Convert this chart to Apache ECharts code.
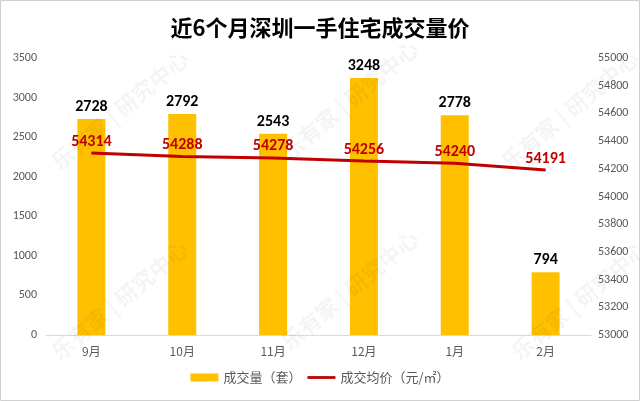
<!DOCTYPE html>
<html><head><meta charset="utf-8">
<script src="https://cdn.jsdelivr.net/npm/echarts@6/dist/echarts.min.js"></script>
<style>html,body{margin:0;padding:0;background:#fff}#c{width:640px;height:401px}</style>
</head><body><div id="c"></div>
<script>
var categories = ['9月','10月','11月','12月','1月','2月'];
var volume = [2728, 2792, 2543, 3248, 2778, 794];
var price = [54314, 54288, 54278, 54256, 54240, 54191];
var titleText = '近6个月深圳一手住宅成交量价';
var volumeName = '成交量（套）';
var priceName = '成交均价（元/㎡）';
var watermarkText = '乐有家 | 研究中心';

var chart = echarts.init(document.getElementById('c'), null, {renderer:'canvas'});
var font = '"Microsoft YaHei","Noto Sans CJK SC",sans-serif';
var numFont = 'Calibri,"Liberation Sans",sans-serif';
var wm = [];
[[120,110],[120,300],[350,100],[350,290],[570,110],[580,300]].forEach(function(p){
  wm.push({type:'text',x:p[0],y:p[1],rotation:Math.PI/4.5,z:100,silent:true,
    style:{text:watermarkText,fill:'rgba(0,0,0,0.045)',font:'bold 22px "Noto Sans CJK SC",sans-serif',align:'center',verticalAlign:'middle'}});
});
wm.push({type:'rect',shape:{x:0.5,y:0.5,width:639,height:400},style:{fill:'none',stroke:'#d0d0d0',lineWidth:1}});
chart.setOption({
  backgroundColor:'#fff',
  animation:false,
  title:{text:titleText,left:'center',top:12,textStyle:{fontFamily:font,fontSize:22,fontWeight:'bold',color:'#000'}},
  graphic:wm,
  grid:{left:46,right:49,top:58,bottom:66},
  legend:{bottom:12,left:'center',itemGap:6,itemWidth:28,itemHeight:8,
    textStyle:{fontFamily:font,fontSize:13,color:'#595959'},
    data:[{name:volumeName,icon:'rect'},{name:priceName,icon:'path://M0,0 L30,0 L30,3 L0,3 Z',itemStyle:{color:'#C00000'}}]},
  xAxis:{type:'category',data:categories,
    axisLine:{lineStyle:{color:'#d9d9d9'}},axisTick:{show:false},
    axisLabel:{color:'#595959',fontSize:12,fontFamily:font,margin:10}},
  yAxis:[
    {type:'value',min:0,max:3500,interval:500,splitLine:{show:false},
      axisLine:{show:false},axisTick:{show:false},
      axisLabel:{color:'#595959',fontSize:12,fontFamily:numFont,margin:9,formatter:function(v){return String(v);}}},
    {type:'value',min:53000,max:55000,interval:200,splitLine:{show:false},
      axisLine:{show:false},axisTick:{show:false},
      axisLabel:{color:'#595959',fontSize:12,fontFamily:numFont,margin:7,formatter:function(v){return String(v);}}}
  ],
  series:[
    {name:volumeName,type:'bar',data:volume,barWidth:28,yAxisIndex:0,
      itemStyle:{color:'#FFC000'},
      label:{show:true,position:'top',distance:4,color:'#000',fontWeight:'bold',fontSize:16,fontFamily:numFont}},
    {name:priceName,type:'line',data:price,yAxisIndex:1,symbol:'circle',symbolSize:1,showSymbol:true,
      lineStyle:{color:'#C00000',width:3},itemStyle:{color:'#C00000'},
      label:{show:true,position:'top',distance:3,color:'#C00000',fontWeight:'bold',fontSize:16,fontFamily:numFont}}
  ]
});
</script></body></html>
